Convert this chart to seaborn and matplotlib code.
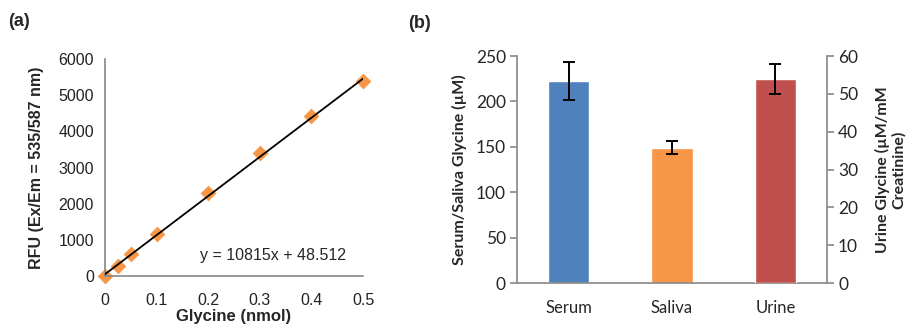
import matplotlib.pyplot as plt
import seaborn as sns
import pandas as pd
import numpy as np

# standard curve (panel a)
glycine_nmol = [0, 0.025, 0.05, 0.1, 0.2, 0.3, 0.4, 0.5]
rfu = [0, 270, 620, 1150, 2300, 3400, 4420, 5380]
slope = 10815
intercept = 48.512

# sample measurements (panel b)
samples = ["Serum", "Saliva", "Urine"]
glycine_conc = [223, 149, 54]
glycine_err = [21, 7, 4]
bar_colors = ["#4F81BD", "#F79646", "#C0504D"]

sns.set_style("white")
plt.rcParams['font.family'] = ['Liberation Sans', 'DejaVu Sans']

fig = plt.figure(figsize=(9.08, 3.28), dpi=100)
grey = "#888888"

# ---- Panel (a)
ax1 = fig.add_axes([0.1156, 0.1585, 0.2842, 0.6616])
df = pd.DataFrame({"x": glycine_nmol, "y": rfu})
fit_x = np.array([glycine_nmol[0], glycine_nmol[-1]])
fit_df = pd.DataFrame({"x": fit_x, "y": slope * fit_x + intercept})
sns.lineplot(data=fit_df, x="x", y="y", color="black", lw=1.3, ax=ax1, zorder=3)
sns.scatterplot(data=df, x="x", y="y", marker="D", s=55, color="#F79646",
                edgecolor="#F79646", ax=ax1, zorder=2, clip_on=False)
ax1.set_xlim(0, 0.5)
ax1.set_ylim(0, 6000)
ax1.set_xticks([0, 0.1, 0.2, 0.3, 0.4, 0.5])
ax1.set_xticklabels(["0", "0.1", "0.2", "0.3", "0.4", "0.5"])
ax1.set_yticks(range(0, 6001, 1000))
for side in ["top", "right"]:
    ax1.spines[side].set_visible(False)
for side in ["left", "bottom"]:
    ax1.spines[side].set_color(grey)
    ax1.spines[side].set_linewidth(1.2)
ax1.tick_params(axis="x", length=0, labelsize=11.5, pad=12, colors="#222222")
ax1.tick_params(axis="y", length=0, labelsize=11.5, pad=8, colors="#222222")
ax1.set_xlabel("Glycine (nmol)", fontsize=12, fontweight="bold", labelpad=1)
ax1.set_ylabel("RFU (Ex/Em = 535/587 nm)", fontsize=11.5, fontweight="bold", labelpad=10)
ax1.text(0.326, 560, f"y = {slope}x + {intercept}", fontsize=11.5, ha="center", va="center")
fig.text(0.009, 0.92, "(a)", fontsize=13, fontweight="bold")

# ---- Panel (b)
bfont = ['Lato', 'DejaVu Sans']
ax2 = fig.add_axes([0.5694, 0.137, 0.3414, 0.692])
ax3 = ax2.twinx()
left_df = pd.DataFrame({"sample": samples[:2], "value": glycine_conc[:2]})
right_df = pd.DataFrame({"sample": samples[2:], "value": glycine_conc[2:]})
sns.barplot(data=left_df, x="sample", y="value", hue="sample", order=samples,
            hue_order=samples, palette=bar_colors, width=0.4, saturation=1,
            ax=ax2, legend=False)
sns.barplot(data=right_df, x="sample", y="value", hue="sample", order=samples,
            hue_order=samples, palette=bar_colors, width=0.4, saturation=1,
            ax=ax3, legend=False)
ax2.errorbar([0, 1], glycine_conc[:2], yerr=glycine_err[:2], fmt="none",
             ecolor="black", elinewidth=1.4, capsize=4.5, capthick=1.4)
ax3.errorbar([2], glycine_conc[2:], yerr=glycine_err[2:], fmt="none",
             ecolor="black", elinewidth=1.4, capsize=4.5, capthick=1.4)
ax2.set_xlim(-0.5, 2.5)
ax2.set_ylim(0, 250)
ax3.set_ylim(0, 60)
ax2.set_yticks(range(0, 251, 50))
ax3.set_yticks(range(0, 61, 10))
ax2.set_xticks([0, 1, 2])
ax2.set_xticklabels(samples, family=bfont, fontsize=12)
ax2.set_xticks([-0.5, 0.5, 1.5, 2.5], minor=True)
for a in (ax2, ax3):
    a.spines["top"].set_visible(False)
    for side in ["left", "right", "bottom"]:
        a.spines[side].set_color(grey)
        a.spines[side].set_linewidth(1.2)
ax2.spines["right"].set_visible(False)
ax3.spines["left"].set_visible(False)
ax3.spines["bottom"].set_visible(False)
ax2.tick_params(axis="x", which="major", length=0, pad=12)
ax2.tick_params(axis="x", which="minor", length=5, width=1.2, color=grey)
ax2.tick_params(axis="y", length=5, width=1.2, color=grey, labelsize=12.5, pad=3)
ax3.tick_params(axis="y", length=5, width=1.2, color=grey, labelsize=12.5, pad=3)
for lab in ax2.get_yticklabels() + ax3.get_yticklabels():
    lab.set_family(bfont)
ax2.set_xlabel("")
ax2.set_ylabel("Serum/Saliva Glycine (\u00b5M)", family=bfont, fontsize=11.5,
               fontweight="bold", labelpad=6)
ax3.set_ylabel("Urine Glycine (\u00b5M/mM\nCreatinine)", family=bfont, fontsize=11.5,
               fontweight="bold", labelpad=12, linespacing=1.15)
fig.text(0.449, 0.915, "(b)", fontsize=13, fontweight="bold")

fig.savefig("out.png", dpi=100)
plt.close(fig)
